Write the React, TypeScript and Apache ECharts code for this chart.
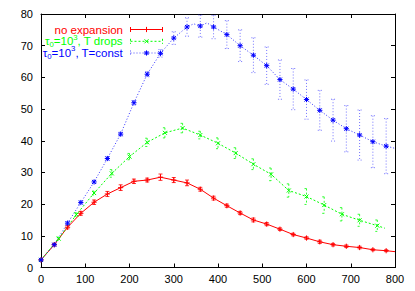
import React, { useEffect, useRef } from "react";
import * as echarts from "echarts";

// ---- data ----
const xRed = [0, 30, 60, 90, 120, 150, 180, 210, 240, 270, 300, 330, 360, 390, 420, 450, 480, 510, 540, 570, 600, 630, 660, 690, 720, 750, 780];
const yRed = [2.4, 7.2, 12.7, 17.1, 20.6, 23.2, 25.2, 27.2, 27.6, 28.5, 27.6, 26.7, 24.7, 21.9, 19.5, 17.2, 15.0, 13.7, 12.1, 10.4, 9.3, 8.1, 7.2, 6.7, 6.3, 5.6, 5.3];
const eRed = [0.3, 0.4, 0.5, 0.6, 0.7, 0.8, 0.9, 0.7, 0.6, 1.0, 0.8, 0.9, 0.6, 0.6, 0.5, 0.5, 0.6, 0.5, 0.4, 0.4, 0.4, 0.5, 0.4, 0.4, 0.4, 0.3, 0.3];
const redTailX = [800];
const redTailY = [5.0];

const xGreen = [0, 40, 80, 120, 160, 200, 240, 280, 320, 360, 400, 440, 480, 520, 560, 600, 640, 680, 720, 760];
const yGreen = [2.4, 9.1, 16.7, 23.5, 29.7, 35.0, 39.5, 42.5, 44.0, 41.8, 39.2, 36.1, 32.6, 29.4, 24.3, 22.4, 19.7, 16.8, 14.9, 13.2];
const eGreen = [0.3, 0.5, 0.6, 0.6, 1.2, 1.0, 1.3, 1.6, 1.5, 1.2, 1.7, 1.7, 1.7, 2.0, 2.1, 2.5, 2.6, 2.1, 1.9, 1.8];
const greenTailX = [777];
const greenTailY = [12.4];

const xBlue = [0, 30, 60, 90, 120, 150, 180, 210, 240, 270, 300, 330, 360, 390, 420, 450, 480, 510, 540, 570, 600, 630, 660, 690, 720, 750, 780];
const yBlue = [2.4, 7.2, 14.0, 20.5, 27.0, 34.4, 42.1, 52.0, 61.0, 67.6, 72.4, 75.9, 76.2, 75.9, 73.5, 70.0, 67.0, 63.7, 59.3, 56.3, 53.0, 49.6, 46.5, 43.8, 41.8, 39.7, 38.3];
const eBlue = [0.3, 0.4, 0.5, 0.5, 0.5, 0.6, 0.6, 0.7, 0.8, 1.2, 2.0, 2.9, 3.5, 3.7, 4.4, 5.0, 5.5, 5.9, 6.2, 6.5, 6.2, 6.3, 6.6, 7.3, 7.9, 8.2, 8.7];
const blueExtraX = [345, 375, 800];
const blueExtraY = [76.9, 77.2, 37.6];

const xTickValues = [0, 100, 200, 300, 400, 500, 600, 700, 800];
const yTickValues = [0, 10, 20, 30, 40, 50, 60, 70, 80];

const legendLabels = [
  [{ t: "no expansion", k: "n" }],
  [{ t: "τ", k: "n" }, { t: "0", k: "sub" }, { t: "=10", k: "n" }, { t: "3", k: "sup" }, { t: ", T drops", k: "n" }],
  [{ t: "τ", k: "n" }, { t: "0", k: "sub" }, { t: "=10", k: "n" }, { t: "3", k: "sup" }, { t: ", T=const", k: "n" }],
];

const FONT = '"Liberation Sans", Arial, Helvetica, sans-serif';
const RED = "#ff0000";
const GREEN = "#00ff00";
const BLUE = "#0000ff";

type Kind = "plus" | "cross" | "star";

function markerEls(kind: Kind, cx: number, cy: number, color: string) {
  const s = { stroke: color, lineWidth: 1 };
  const r = 2.6;
  const d = 2.0;
  const plus = [
    { type: "line", shape: { x1: cx - r, y1: cy, x2: cx + r, y2: cy }, style: s },
    { type: "line", shape: { x1: cx, y1: cy - r, x2: cx, y2: cy + r }, style: s },
  ];
  const cross = [
    { type: "line", shape: { x1: cx - d, y1: cy - d, x2: cx + d, y2: cy + d }, style: s },
    { type: "line", shape: { x1: cx - d, y1: cy + d, x2: cx + d, y2: cy - d }, style: s },
  ];
  if (kind === "plus") return plus;
  if (kind === "cross") return cross;
  return [...plus, ...cross];
}

function zip3(a: number[], b: number[], c: number[]) {
  return a.map((v, i) => [v, b[i], c[i]]);
}
function lineData(x: number[], y: number[], ex: number[], ey: number[]) {
  const pts = x.map((v, i) => [v, y[i]]).concat(ex.map((v, i) => [v, ey[i]]));
  return pts.sort((p, q) => p[0] - q[0]);
}

function errSeries(data: number[][], color: string, dash: number[] | null, kind: Kind, opacity: number) {
  return {
    type: "custom",
    data,
    encode: { x: 0, y: 1 },
    z: 3,
    silent: true,
    renderItem: (params: any, api: any) => {
      const x = api.value(0);
      const y = api.value(1);
      const e = api.value(2);
      const p = api.coord([x, y]);
      const hi = api.coord([x, y + e]);
      const lo = api.coord([x, y - e]);
      const st: any = { stroke: color, lineWidth: 1, opacity };
      if (dash) st.lineDash = dash;
      const cw = 2;
      return {
        type: "group",
        children: [
          { type: "line", shape: { x1: p[0], y1: hi[1], x2: p[0], y2: lo[1] }, style: st },
          { type: "line", shape: { x1: p[0] - cw, y1: hi[1], x2: p[0] + cw, y2: hi[1] }, style: st },
          { type: "line", shape: { x1: p[0] - cw, y1: lo[1], x2: p[0] + cw, y2: lo[1] }, style: st },
          ...markerEls(kind, p[0], p[1], color),
        ],
      };
    },
  };
}

export default function App() {
  const ref = useRef<HTMLDivElement>(null);
  useEffect(() => {
    const chart = echarts.init(ref.current!, null, { renderer: "svg" });
    const ctx = document.createElement("canvas").getContext("2d")!;
    const tw = (t: string, size: number) => {
      ctx.font = `${size}px ${FONT}`;
      return ctx.measureText(t).width;
    };
    const colors = [RED, GREEN, BLUE];
    const kinds: Kind[] = ["plus", "cross", "star"];
    const dashes: (number[] | null)[] = [null, [2, 2], [1, 2]];
    const rowsY = [29.5, 41.3, 53];
    const textRight = 123;
    const mainSize = 11.5;
    const smallSize = 7.8;
    const graphics: any[] = [];
    legendLabels.forEach((pieces, ri) => {
      const widths = pieces.map((pc) => tw(pc.t, pc.k === "n" ? mainSize : smallSize));
      const total = widths.reduce((a, b) => a + b, 0);
      let x = textRight - total;
      const cy = rowsY[ri];
      pieces.forEach((pc, pi) => {
        const dy = pc.k === "sub" ? 3.2 : pc.k === "sup" ? -4.2 : 0;
        graphics.push({
          type: "text",
          x,
          y: cy + dy,
          silent: true,
          style: {
            text: pc.t,
            fill: colors[ri],
            fontSize: pc.k === "n" ? mainSize : smallSize,
            fontFamily: FONT,
            align: "left",
            verticalAlign: "middle",
          },
        });
        x += widths[pi];
      });
      const st: any = { stroke: colors[ri], lineWidth: 1, opacity: ri === 2 ? 0.7 : 1 };
      if (dashes[ri]) st.lineDash = dashes[ri];
      const x1 = 130.5, x2 = 162.5;
      graphics.push({ type: "line", silent: true, shape: { x1, y1: cy, x2, y2: cy }, style: st });
      graphics.push({ type: "line", silent: true, shape: { x1, y1: cy - 2.5, x2: x1, y2: cy + 2.5 }, style: st });
      graphics.push({ type: "line", silent: true, shape: { x1: x2, y1: cy - 2.5, x2, y2: cy + 2.5 }, style: st });
      markerEls(kinds[ri], 146.5, cy, colors[ri]).forEach((m) => graphics.push({ ...m, silent: true }));
    });

    const axisCommon = {
      type: "value",
      axisLine: { show: true, onZero: false, lineStyle: { color: "#000", width: 1 } },
      axisTick: { show: true, inside: true, length: 4, lineStyle: { color: "#000", width: 1 } },
      splitLine: { show: false },
    };

    const option: any = {
      animation: false,
      backgroundColor: "#fff",
      grid: { left: 41, right: 20, top: 14, bottom: 23.5, containLabel: false },
      xAxis: [
        {
          ...axisCommon,
          position: "bottom",
          min: xTickValues[0],
          max: xTickValues[xTickValues.length - 1],
          interval: xTickValues[1] - xTickValues[0],
          axisLabel: { color: "#000", fontSize: 11, fontFamily: FONT, margin: 6 },
        },
        {
          ...axisCommon,
          position: "top",
          min: xTickValues[0],
          max: xTickValues[xTickValues.length - 1],
          interval: xTickValues[1] - xTickValues[0],
          axisLabel: { show: false },
        },
      ],
      yAxis: [
        {
          ...axisCommon,
          position: "left",
          min: yTickValues[0],
          max: yTickValues[yTickValues.length - 1],
          interval: yTickValues[1] - yTickValues[0],
          axisLabel: { color: "#000", fontSize: 11, fontFamily: FONT, margin: 8 },
        },
        {
          ...axisCommon,
          position: "right",
          min: yTickValues[0],
          max: yTickValues[yTickValues.length - 1],
          interval: yTickValues[1] - yTickValues[0],
          axisLabel: { show: false },
        },
      ],
      series: [
        {
          type: "line",
          data: lineData(xRed, yRed, redTailX, redTailY),
          symbol: "none",
          silent: true,
          lineStyle: { color: RED, width: 1 },
          z: 2,
        },
        {
          type: "line",
          data: lineData(xGreen, yGreen, greenTailX, greenTailY),
          symbol: "none",
          silent: true,
          lineStyle: { color: GREEN, width: 1, type: [2, 2] },
          z: 2,
        },
        {
          type: "line",
          data: lineData(xBlue, yBlue, blueExtraX, blueExtraY),
          symbol: "none",
          silent: true,
          lineStyle: { color: BLUE, width: 1, type: [1, 2], opacity: 0.8 },
          z: 2,
        },
        errSeries(zip3(xRed, yRed, eRed), RED, null, "plus", 0.8),
        errSeries(zip3(xGreen, yGreen, eGreen), GREEN, [2, 2], "cross", 0.8),
        errSeries(zip3(xBlue, yBlue, eBlue), BLUE, [1, 2], "star", 0.55),
      ],
      graphic: graphics,
    };
    chart.setOption(option);
    return () => chart.dispose();
  }, []);
  return (
    <div
      ref={ref}
      style={{ position: "fixed", left: 0, top: 0, width: 415, height: 291, background: "#fff" }}
    />
  );
}
